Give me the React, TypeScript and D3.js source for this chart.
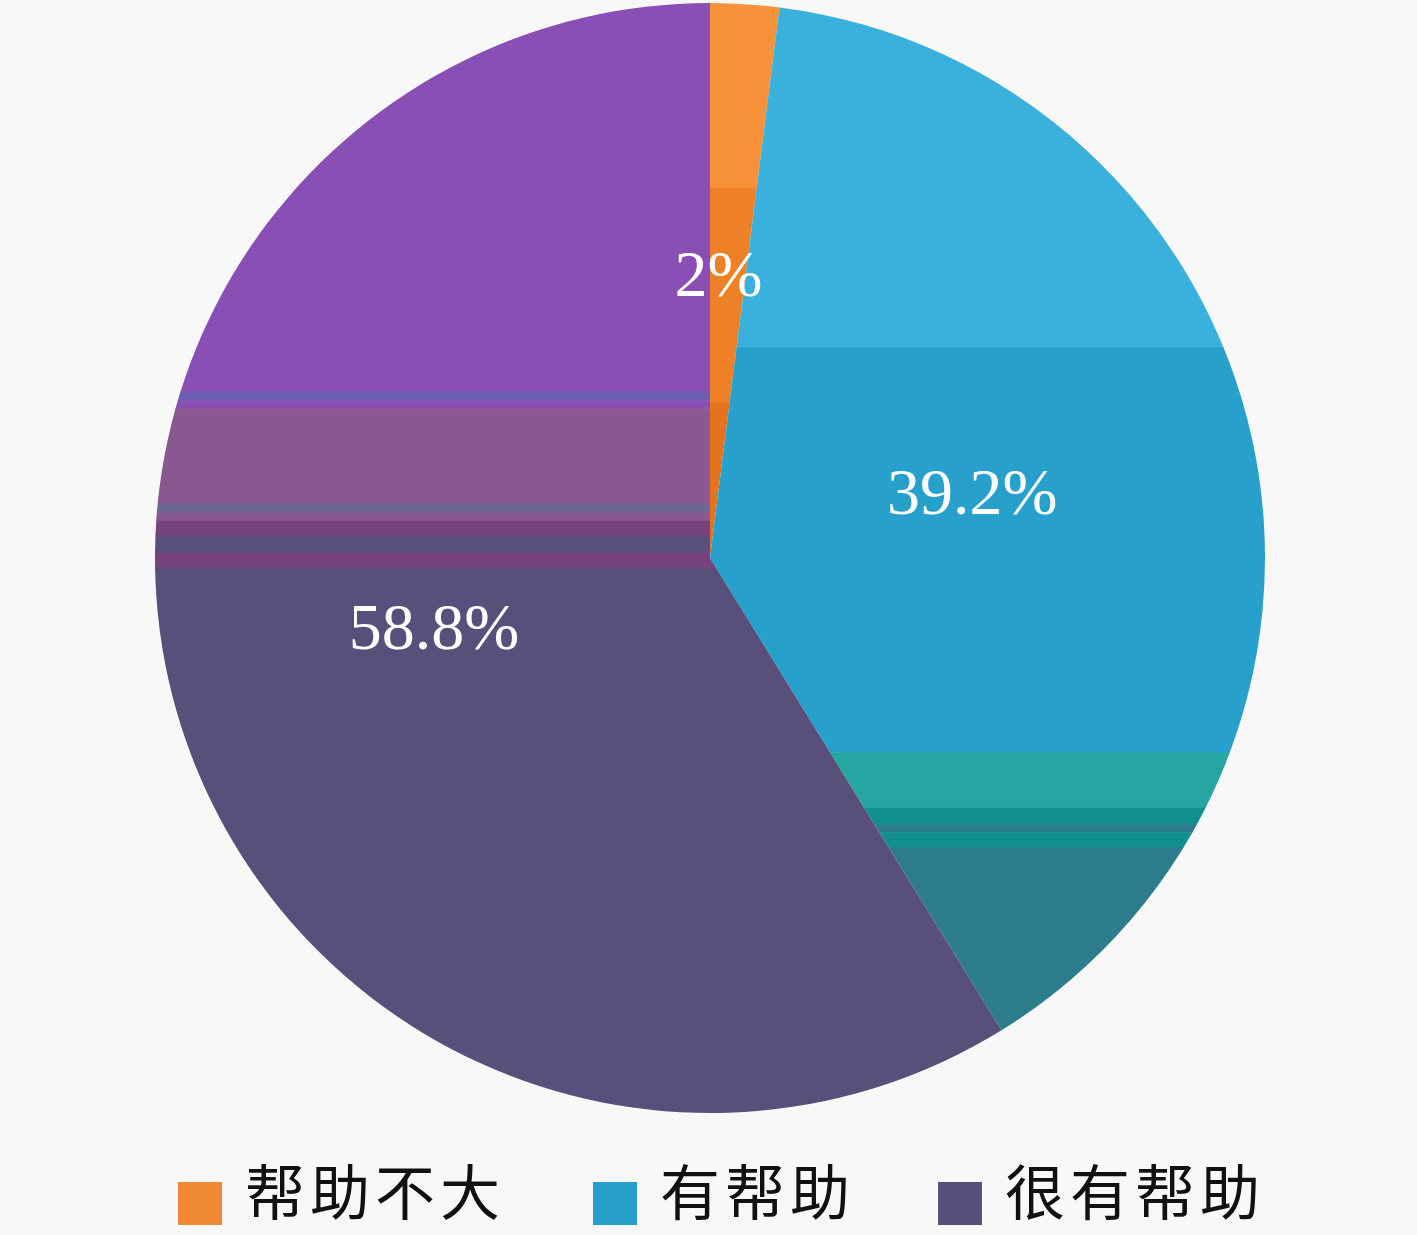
import React, { useEffect, useRef } from 'react'
import * as d3 from 'd3'

// data
const categories = ['帮助不大', '有帮助', '很有帮助']
const values = [2, 39.2, 58.8]
const labels = ['2%', '39.2%', '58.8%']
const legendColors = ['#F28A33', '#289FCB', '#574F7A']

// horizontal shading bands for each slice (fraction of diameter from top, colour)
const bands = [
  [
    [0, '#F7923A'],
    [0.166, '#EE8027'],
    [0.36, '#E3731F'],
  ],
  [
    [0, '#3AB0DC'],
    [0.31, '#27A0CC'],
    [0.675, '#25A6A2'],
    [0.725, '#128F8F'],
    [0.74, '#2E7D8C'],
    [0.747, '#128F8F'],
    [0.761, '#2E7D8C'],
  ],
  [
    [0, '#8A4FB5'],
    [0.35, '#6E5FB5'],
    [0.358, '#8A4FB5'],
    [0.365, '#895890'],
    [0.451, '#6E6690'],
    [0.459, '#895890'],
    [0.466, '#76437D'],
    [0.48, '#5A5080'],
    [0.495, '#76437D'],
    [0.509, '#58507B'],
  ],
]

const App = () => {
  const svgRef = useRef(null)

  useEffect(() => {
    const width = 1417
    const height = 1235
    const cx = 710
    const cy = 558
    const r = 555

    const svg = d3.select(svgRef.current)
    svg.selectAll('*').remove()
    svg.attr('width', width).attr('height', height)

    svg.append('rect').attr('width', width).attr('height', height).attr('fill', '#F8F8F8')

    const pie = d3.pie().sort(null).value((d) => d)
    const arcs = pie(values)
    const arc = d3.arc().innerRadius(0).outerRadius(r)

    const defs = svg.append('defs')
    const g = svg.append('g').attr('transform', `translate(${cx},${cy})`)

    arcs.forEach((a, i) => {
      defs
        .append('clipPath')
        .attr('id', `slice-${i}`)
        .append('path')
        .attr('d', arc(a))

      const sg = g.append('g').attr('clip-path', `url(#slice-${i})`)
      const b = bands[i]
      b.forEach((band, j) => {
        const y0 = -r + band[0] * 2 * r
        const y1 = j < b.length - 1 ? -r + b[j + 1][0] * 2 * r : r
        sg.append('rect')
          .attr('x', -r - 2)
          .attr('y', y0)
          .attr('width', 2 * r + 4)
          .attr('height', y1 - y0 + 0.5)
          .attr('fill', band[1])
      })
    })

    // percentage labels
    arcs.forEach((a, i) => {
      const [x, y] = arc.centroid(a)
      g.append('text')
        .attr('x', x - 9)
        .attr('y', y - 8)
        .attr('dy', '0.35em')
        .attr('text-anchor', 'middle')
        .attr('font-family', 'Liberation Serif, serif')
        .attr('font-size', 66)
        .attr('fill', '#fff')
        .text(labels[i])
    })

    // legend
    const legend = svg.append('g').attr('transform', 'translate(178,1182)')
    const fs = 60
    let x = 0
    categories.forEach((c, i) => {
      legend.append('rect').attr('x', x).attr('y', 0).attr('width', 44).attr('height', 43).attr('fill', legendColors[i])
      legend
        .append('text')
        .attr('x', x + 67)
        .attr('y', 33)
        .attr('font-family', 'Noto Sans CJK SC')
        .attr('font-size', fs)
        .attr('letter-spacing', 5)
        .attr('fill', '#111')
        .text(c)
      x += 135 + c.length * 70
    })
  }, [])

  return <svg ref={svgRef} style={{ position: 'absolute', left: 0, top: 0, display: 'block' }}></svg>
}

export default App
